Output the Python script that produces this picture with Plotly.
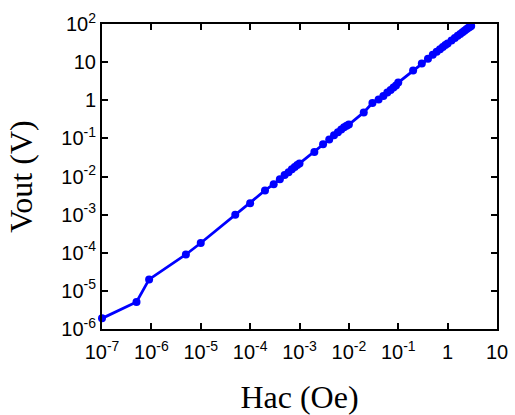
import plotly.graph_objects as go

hac = [1e-7, 5e-7, 9e-7, 5e-6, 1e-5, 5e-5, 1e-4,
       2e-4, 3e-4, 4e-4, 5e-4, 6e-4, 7e-4, 8e-4, 9e-4, 1e-3,
       2e-3, 3e-3, 4e-3, 5e-3, 6e-3, 7e-3, 8e-3, 9e-3, 1e-2,
       2e-2, 3e-2, 4e-2, 5e-2, 6e-2, 7e-2, 8e-2, 9e-2, 0.1,
       0.2, 0.3, 0.4, 0.5, 0.6, 0.7, 0.8, 0.9, 1.0,
       1.2, 1.4, 1.6, 1.8, 2.0, 2.2, 2.4, 2.6, 2.8, 3.0]
vout = [1.9e-6, 5.1e-6, 2.0e-5, 9.0e-5, 1.8e-4, 1.0e-3, 2.0e-3,
        4.3e-3, 6.3e-3, 8.5e-3, 1.1e-2, 1.3e-2, 1.55e-2, 1.78e-2, 2.0e-2, 2.2e-2,
        4.4e-2, 7.0e-2, 9.3e-2, 0.12, 0.145, 0.17, 0.195, 0.215, 0.23,
        0.48, 0.85, 1.05, 1.3, 1.6, 1.85, 2.15, 2.45, 2.9,
        6.0, 9.2, 12.3, 15.5, 18.6, 21.7, 24.8, 28.0, 31.0,
        37.0, 43.0, 49.0, 55.0, 61.0, 67.0, 73.0, 79.0, 84.0, 89.0]

x_tickvals = [1e-7, 1e-6, 1e-5, 1e-4, 1e-3, 1e-2, 1e-1, 1, 10]
x_ticktext = ["10<sup>-7</sup>", "10<sup>-6</sup>", "10<sup>-5</sup>", "10<sup>-4</sup>",
              "10<sup>-3</sup>", "10<sup>-2</sup>", "10<sup>-1</sup>", "1", "10"]
y_tickvals = [1e-6, 1e-5, 1e-4, 1e-3, 1e-2, 1e-1, 1, 10, 100]
y_ticktext = ["10<sup>-6</sup>", "10<sup>-5</sup>", "10<sup>-4</sup>", "10<sup>-3</sup>",
              "10<sup>-2</sup>", "10<sup>-1</sup>", "1", "10", "10<sup>2</sup>"]

fig = go.Figure()
fig.add_trace(go.Scatter(
    x=hac, y=vout, mode="lines+markers",
    line=dict(color="#0000ff", width=2.8),
    marker=dict(color="#0000ff", size=8),
    cliponaxis=False, showlegend=False,
))

axis_common = dict(
    type="log", showgrid=False, zeroline=False, automargin=False,
    showline=True, linecolor="black", linewidth=2, mirror="ticks",
    ticks="inside", ticklen=6, tickwidth=2, tickcolor="black",
    tickfont=dict(family="Liberation Sans, Arial", size=20, color="black"),
)

fig.update_xaxes(
    **axis_common, range=[-7, 1], ticklabelstandoff=4,
    tickvals=x_tickvals, ticktext=x_ticktext,
    title=dict(text="Hac (Oe)", font=dict(family="Liberation Serif, Times New Roman", size=32, color="black"), standoff=24),
)
fig.update_yaxes(
    **axis_common, range=[-6, 2],
    tickvals=y_tickvals, ticktext=y_ticktext,
    title=dict(text="Vout (V)", font=dict(family="Liberation Serif, Times New Roman", size=32, color="black"), standoff=19),
)

fig.update_layout(
    width=515, height=415,
    margin=dict(l=102, r=18, t=24, b=86),
    paper_bgcolor="white", plot_bgcolor="white",
)

fig.write_html("out.html", config={"displayModeBar": False},
               post_script="document.body.style.margin='0';document.body.style.overflow='hidden';")
